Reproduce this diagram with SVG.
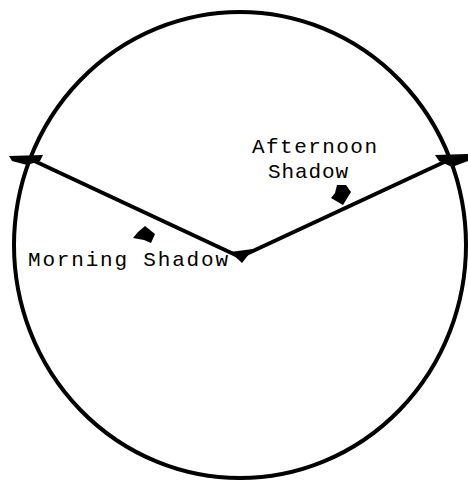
<svg xmlns="http://www.w3.org/2000/svg" width="468" height="482" viewBox="0 0 468 482">
<style>
.ln{fill:none;stroke:#000;stroke-width:4;stroke-linejoin:round;stroke-linecap:round}
.blob{fill:#000;stroke:none}
.lbl{font-family:"Liberation Mono","DejaVu Sans Mono",monospace;font-size:21px;fill:#000}
</style>
<rect width="468" height="482" fill="#fff"/>
<g id="dial">
<ellipse class="ln" cx="240" cy="245" rx="226" ry="233"/>
</g>
<g id="connectors">
<polyline class="ln" points="28,158 240,257 455,157"/>
<polygon class="blob" points="9,156 43,155 40,161 27,165 12,161"/>
<polygon class="blob" points="435,155 468,154 468,161 452,167 439,161"/>
<polygon class="blob" points="230,252 253,249 242,263"/>
<polygon class="blob" points="145,226 155,234 151,243 144,240 133,238 138,232"/>
<polygon class="blob" points="343,205 331,198 335,193 337,185 346,185 351,192"/>
</g>
<g id="morning">
<text class="lbl" x="28" y="266" textLength="200" lengthAdjust="spacing">Morning Shadow</text>
</g>
<g id="afternoon">
<text class="lbl" x="252" y="153" textLength="125" lengthAdjust="spacing">Afternoon</text>
<text class="lbl" x="268" y="178" textLength="80" lengthAdjust="spacing">Shadow</text>
</g>
</svg>
